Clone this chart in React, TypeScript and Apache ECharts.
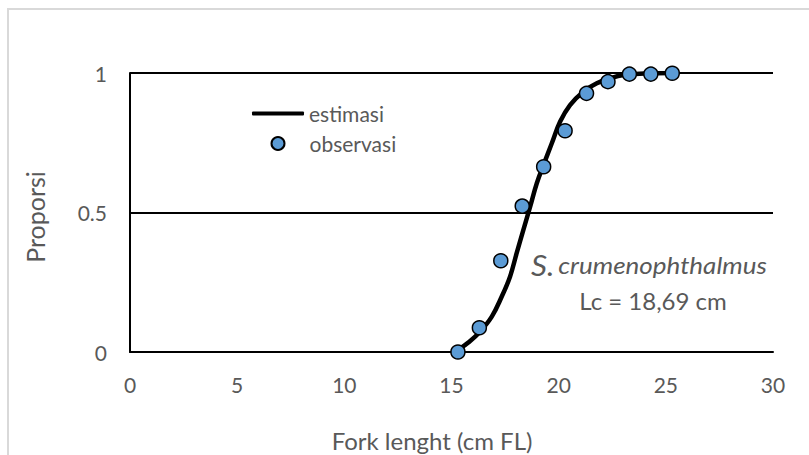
import React, { useEffect, useRef } from "react";
import * as echarts from "echarts";

// Observed proportions (observasi)
const obsX = [15.3, 16.3, 17.3, 18.3, 19.3, 20.3, 21.3, 22.3, 23.3, 24.3, 25.3];
const obsY = [0.0, 0.087, 0.327, 0.523, 0.664, 0.793, 0.927, 0.969, 0.996, 0.996, 0.999];

// Estimated curve (estimasi)
const estX = [15.35, 15.8, 16.33, 16.88, 17.34, 17.73, 18.04, 18.35, 18.67, 18.98, 19.32, 19.68, 20.07, 20.53, 21.15, 21.78, 22.4, 23.02, 24.0, 25.3];
const estY = [0.01, 0.035, 0.073, 0.127, 0.198, 0.27, 0.354, 0.437, 0.521, 0.605, 0.676, 0.748, 0.826, 0.885, 0.933, 0.963, 0.981, 0.993, 0.998, 1.0];

const xTicks = [0, 5, 10, 15, 20, 25, 30];
const yTicks = [0, 0.5, 1];

const seriesNames = ["estimasi", "observasi"];
const xTitle = "Fork lenght (cm FL)";
const yTitle = "Proporsi";
const speciesGenus = "S.";
const speciesName = "crumenophthalmus";
const lcLabel = "Lc = 18,69 cm";

const FONT = "Lato, 'Open Sans', sans-serif";
const GRAY = "#595959";

export default function App() {
  const ref = useRef<HTMLDivElement>(null);

  useEffect(() => {
    if (!ref.current) return;
    const chart = echarts.init(ref.current, null, { renderer: "svg" });
    const option = {
      animation: false,
      backgroundColor: "#ffffff",
      textStyle: { fontFamily: FONT },
      grid: { left: 130, right: 36, top: 73, bottom: 103, containLabel: false },
      xAxis: {
        type: "value",
        min: xTicks[0],
        max: xTicks[xTicks.length - 1],
        interval: 5,
        axisLine: { show: true, lineStyle: { color: "#000", width: 2 } },
        axisTick: { show: false },
        splitLine: { show: false },
        axisLabel: { color: GRAY, fontSize: 21, margin: 22, fontFamily: FONT },
      },
      yAxis: {
        type: "value",
        min: yTicks[0],
        max: yTicks[yTicks.length - 1],
        interval: 0.5,
        axisLine: { show: true, lineStyle: { color: "#000", width: 2 } },
        axisTick: { show: false },
        splitLine: { show: true, lineStyle: { color: "#000", width: 2 } },
        axisLabel: { color: GRAY, fontSize: 21, margin: 23, fontFamily: FONT },
      },
      legend: [
        {
          data: [{ name: seriesNames[0], icon: "roundRect" }],
          left: 252,
          top: 103,
          padding: 0,
          itemWidth: 52,
          itemHeight: 4,
          itemGap: 5,
          itemStyle: { color: "#000" },
          textStyle: { color: GRAY, fontSize: 21, fontFamily: FONT },
        },
        {
          data: [{ name: seriesNames[1], icon: "circle" }],
          left: 270.5,
          top: 133,
          padding: 0,
          itemWidth: 13,
          itemHeight: 13,
          itemGap: 5,
          textStyle: { color: GRAY, fontSize: 21, fontFamily: FONT, padding: [0, 0, 0, 20] },
        },
      ],
      series: [
        {
          name: seriesNames[0],
          type: "line",
          data: estX.map((x, i) => [x, estY[i]]),
          symbol: "none",
          smooth: 0.4,
          lineStyle: { color: "#000", width: 4.5, cap: "round" },
          itemStyle: { color: "#000" },
          z: 3,
        },
        {
          name: seriesNames[1],
          type: "scatter",
          data: obsX.map((x, i) => [x, obsY[i]]),
          symbol: "circle",
          symbolSize: 14,
          itemStyle: { color: "#5B9BD5", borderColor: "#000", borderWidth: 1.5, opacity: 1 },
          z: 4,
        },
      ],
      graphic: [
        {
          type: "rect",
          shape: { x: 8, y: 9, width: 900, height: 600 },
          style: { fill: "none", stroke: "#d9d9d9", lineWidth: 2 },
          silent: true,
          z: -10,
        },
        {
          type: "text",
          x: 432,
          y: 440,
          style: {
            text: xTitle,
            fill: GRAY,
            font: `24px ${FONT}`,
            textAlign: "center",
            textVerticalAlign: "middle",
          },
        },
        {
          type: "text",
          x: 35,
          y: 217,
          rotation: Math.PI / 2,
          style: {
            text: yTitle,
            fill: GRAY,
            font: `25px ${FONT}`,
            textAlign: "center",
            textVerticalAlign: "middle",
          },
        },
        {
          type: "text",
          x: 531,
          y: 265,
          scaleX: 1.13,
          style: {
            text: `{g|${speciesGenus}} {s|${speciesName}}`,
            textVerticalAlign: "middle",
            rich: {
              g: { fontSize: 28, fontStyle: "italic", fill: GRAY, fontFamily: FONT, color: GRAY },
              s: { fontSize: 23, fontStyle: "italic", fill: GRAY, fontFamily: FONT, color: GRAY },
            },
          },
        },
        {
          type: "text",
          x: 653,
          y: 300,
          style: {
            text: lcLabel,
            fill: GRAY,
            font: `24px ${FONT}`,
            textAlign: "center",
            textVerticalAlign: "middle",
          },
        },
      ],
    };
    chart.setOption(option);
    return () => chart.dispose();
  }, []);

  return (
    <div
      ref={ref}
      style={{ position: "fixed", left: 0, top: 0, width: 809, height: 455 }}
    />
  );
}
